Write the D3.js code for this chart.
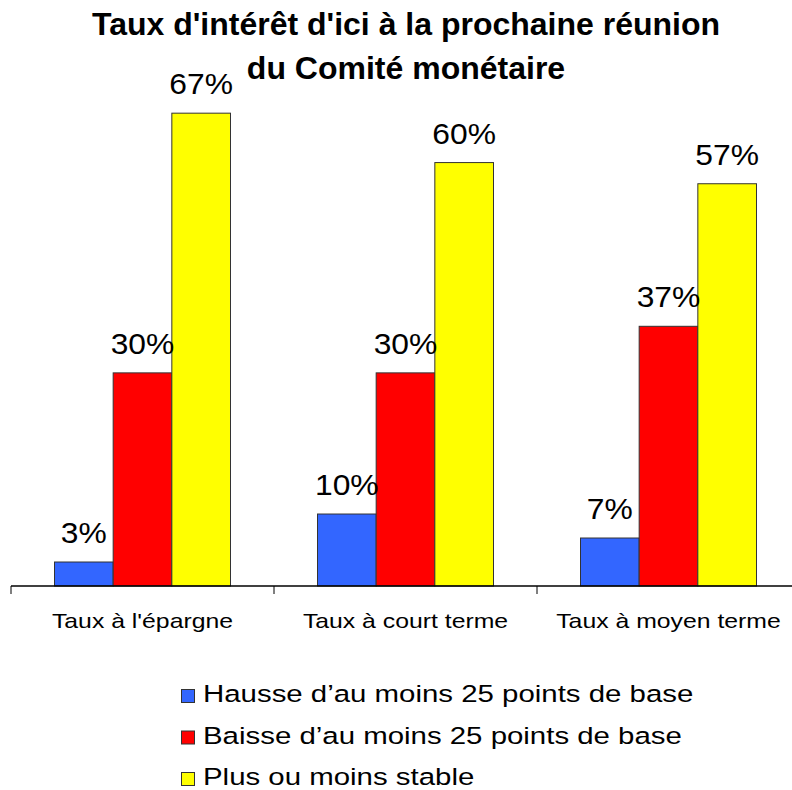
<!DOCTYPE html>
<html>
<head>
<meta charset="utf-8">
<script src="https://cdn.jsdelivr.net/npm/d3@7"></script>
<style>
  body { margin: 0; background: #fff; }
  svg { font-family: "Liberation Sans", Arial, sans-serif; }
</style>
</head>
<body>
<svg class="chart" width="792" height="790"></svg>
<script>
const categories = ["Taux à l'épargne", "Taux à court terme", "Taux à moyen terme"];
const seriesNames = ["Hausse d’au moins 25 points de base", "Baisse d’au moins 25 points de base", "Plus ou moins stable"];
const hausse = [3.4, 10.2, 6.8];
const baisse = [30.2, 30.2, 36.8];
const stable = [67, 60, 57];
const titleLines = ["Taux d'intérêt d'ici à la prochaine réunion", "du Comité monétaire"];

const seriesValues = [hausse, baisse, stable];
const colors = ["#3366ff", "#ff0000", "#ffff00"];

const svg = d3.select('svg.chart');

const x = d3.scaleBand()
    .domain(categories)
    .range([11, 800]);

const xInner = d3.scaleBand()
    .domain(seriesNames)
    .range([43.5, x.bandwidth() - 43.5]);

const y = d3.scaleLinear()
    .domain([0, 70])
    .range([586, 92]);

const colScale = d3.scaleOrdinal()
    .domain(seriesNames)
    .range(colors);

// the original text is wider than Arial, so widen it
function stretch(sel, k) {
  sel.each(function(){
    const w = this.getComputedTextLength();
    d3.select(this)
      .attr('textLength', w * k)
      .attr('lengthAdjust', 'spacingAndGlyphs');
  });
}

// title
svg.append('g')
  .selectAll('text')
  .data(titleLines)
  .join('text')
  .attr('x', 406)
  .attr('y', (d, i) => 35 + i * 44)
  .attr('text-anchor', 'middle')
  .style('font-weight', 'bold')
  .style('font-size', '32px')
  .text(d => d);

// bars
const rows = categories.map((c, i) => ({
  cat: c,
  vals: seriesNames.map((s, j) => ({ series: s, value: seriesValues[j][i] }))
}));

const groups = svg.append('g')
  .selectAll('g')
  .data(rows)
  .join('g')
  .attr('transform', d => `translate(${x(d.cat)},0)`);

groups.selectAll('rect')
  .data(d => d.vals)
  .join('rect')
  .attr('x', d => xInner(d.series))
  .attr('y', d => y(d.value))
  .attr('width', xInner.bandwidth())
  .attr('height', d => y(0) - y(d.value))
  .attr('fill', d => colScale(d.series))
  .attr('stroke', '#333')
  .attr('stroke-width', 1);

const valText = groups.selectAll('text')
  .data(d => d.vals)
  .join('text')
  .attr('x', d => xInner(d.series) + xInner.bandwidth() / 2)
  .attr('y', d => y(d.value) - 19)
  .attr('text-anchor', 'middle')
  .style('font-size', '30px')
  .text(d => Math.round(d.value) + '%');
stretch(valText, 1.06);

// axis
const axisG = svg.append('g')
  .attr('transform', `translate(0,${y(0)})`);

axisG.append('line')
  .attr('x1', 11)
  .attr('x2', 792)
  .attr('stroke', '#000')
  .attr('stroke-width', 1.5);

axisG.selectAll('line.tick')
  .data(categories)
  .join('line')
  .attr('class', 'tick')
  .attr('x1', d => x(d))
  .attr('x2', d => x(d))
  .attr('y1', 0)
  .attr('y2', 8)
  .attr('stroke', '#000');

const catText = axisG.selectAll('text')
  .data(categories)
  .join('text')
  .attr('x', d => x(d) + x.bandwidth() / 2)
  .attr('y', 42)
  .attr('text-anchor', 'middle')
  .style('font-size', '21px')
  .text(d => d);
stretch(catText, 1.18);

// legend
const legend = svg.append('g')
  .selectAll('g')
  .data(seriesNames)
  .join('g')
  .attr('transform', (d, i) => `translate(181,${702 + i * 41.5})`);

legend.append('rect')
  .attr('x', 0.5)
  .attr('y', -12.5)
  .attr('width', 13)
  .attr('height', 13)
  .attr('fill', d => colScale(d))
  .attr('stroke', '#333');

const legText = legend.append('text')
  .attr('x', 22)
  .attr('y', 0)
  .style('font-size', '24.5px')
  .text(d => d);
stretch(legText, 1.2);
</script>
</body>
</html>
